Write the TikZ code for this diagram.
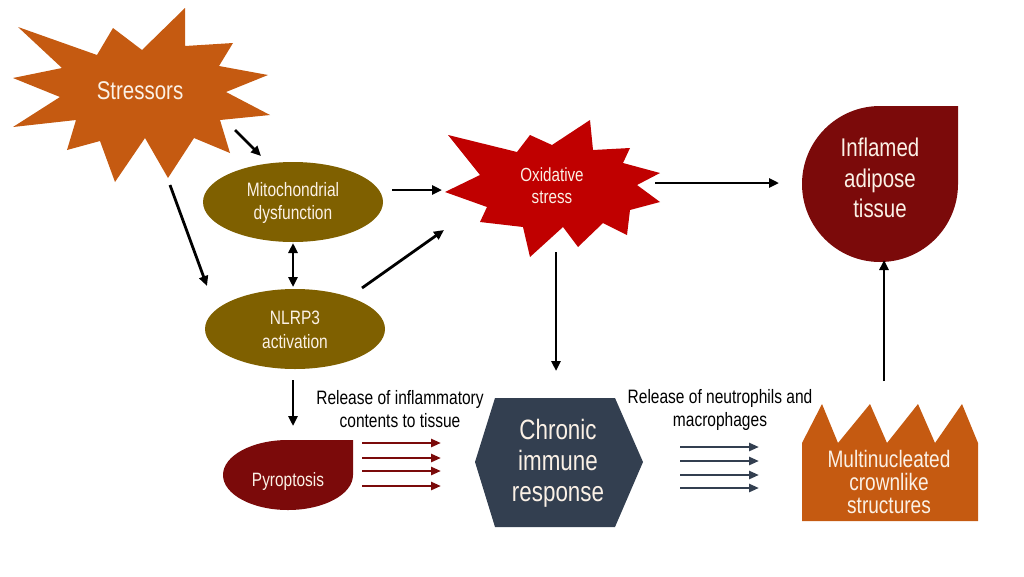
\documentclass[tikz,border=0pt]{standalone}
\usepackage{fontspec}
\setmainfont{Liberation Sans}
\usetikzlibrary{arrows.meta,shapes.geometric}
\definecolor{orng}{HTML}{C55A11}
\definecolor{oxred}{HTML}{C00000}
\definecolor{dred}{HTML}{7B0A0A}
\definecolor{olive}{HTML}{7F6000}
\definecolor{slate}{HTML}{333F50}
\definecolor{txt}{HTML}{FBF1E6}
\tikzset{
  arr/.style={line width=2.8pt,-{Triangle[length=10pt,width=9pt]}},
  darr/.style={line width=2.8pt,{Triangle[length=10pt,width=9pt]}-{Triangle[length=10pt,width=9pt]}},
  redarr/.style={line width=2.8pt,draw=dred,-{Triangle[length=10pt,width=8pt]}},
  navarr/.style={line width=2.8pt,draw=slate,-{Triangle[length=10pt,width=8pt]}},
  narrow/.style={transform shape,xscale=0.8},
  lbl/.style={narrow,text=txt,align=center,inner sep=0pt},
  caption/.style={narrow,text=black,align=center,inner sep=0pt,font=\fontsize{19.4}{23}\selectfont}
}
\begin{document}
\begin{tikzpicture}[x=1pt,y=-1pt]
\useasboundingbox (0,0) rectangle (1024,576);
% Stressors star
\fill[orng] (18,27) -- (97,55) -- (113,28) -- (142,50) -- (185,8) -- (185,46) -- (233,43) -- (219,66)
  -- (268,75) -- (226,92) -- (270,115) -- (220,120) -- (230,153) -- (194,138) -- (168,178) -- (145,138)
  -- (115,182) -- (100,141) -- (67,150) -- (76,120) -- (13,127) -- (60,97) -- (13,78) -- (62,68) -- cycle;
\node[lbl,font=\fontsize{25.6}{30}\selectfont] (stressors) at (140,91) {Stressors};
% Oxidative stress star
\fill[oxred] (448,135) -- (517,152) -- (530,135) -- (552,145) -- (590,120) -- (593,150) -- (630,148)
  -- (623,163) -- (660,173) -- (637,185) -- (660,202) -- (630,210) -- (627,235) -- (603,223) -- (578,247)
  -- (563,227) -- (530,257) -- (523,227) -- (480,222) -- (487,207) -- (445,192) -- (480,175) -- cycle;
\node[lbl,font=\fontsize{19}{22}\selectfont] (oxid) at (552,186) {Oxidative\\stress};
% Ellipses
\fill[olive] (293,202) ellipse[x radius=90,y radius=40];
\fill[olive] (295,329) ellipse[x radius=90,y radius=40];
\node[lbl,font=\fontsize{19.4}{23}\selectfont] (mito) at (293,203) {Mitochondrial\\dysfunction};
\node[lbl,font=\fontsize{19.4}{24}\selectfont] (nlrp3) at (295,330) {NLRP3\\activation};
% Inflamed adipose tissue
\fill[dred] (958,106) -- (880,106) arc[start angle=270,end angle=0,radius=78] -- cycle;
\node[lbl,font=\fontsize{25.6}{30.5}\selectfont] (inflamed) at (880,178) {Inflamed\\adipose\\tissue};
% Pyroptosis
\fill[dred] (353,440) -- (288,440) arc[start angle=270,end angle=0,x radius=65,y radius=35] -- cycle;
\node[lbl,font=\fontsize{19.3}{22}\selectfont] (pyro) at (288,481) {Pyroptosis};
% Chronic immune response
\fill[slate] (495,398) -- (615,398) -- (643,462) -- (615,527) -- (495,527) -- (475,462) -- cycle;
\node[lbl,font=\fontsize{28}{31}\selectfont] (chronic) at (558,463) {Chronic\\immune\\response};
% Crown-like structures
\fill[orng] (802,521) -- (802,443) -- (822,404) -- (838,443) -- (870,404) -- (887,443) -- (918,404)
  -- (935,443) -- (962,404) -- (978,443) -- (978,521) -- cycle;
\node[lbl,font=\fontsize{23.8}{23}\selectfont] (crown) at (889,482) {Multinucleated\\crownlike\\structures};
% captions
\node[caption] (cap1) at (400,409) {Release of inflammatory\\contents to tissue};
\node[caption] (cap2) at (720,410) {Release of neutrophils and\\macrophages};
% connector end points
\coordinate (s2m-a) at (235,130); \coordinate (s2m-b) at (261,156);
\coordinate (s2n-a) at (170,185); \coordinate (s2n-b) at (207,286);
\coordinate (m2o-a) at (392,190); \coordinate (m2o-b) at (442,190);
\coordinate (mn-a) at (293,243); \coordinate (mn-b) at (293,287);
\coordinate (n2o-a) at (362,288); \coordinate (n2o-b) at (444,230);
\coordinate (o2i-a) at (655,183); \coordinate (o2i-b) at (779,183);
\coordinate (o2c-a) at (556,252); \coordinate (o2c-b) at (556,371);
\coordinate (n2p-a) at (293,380); \coordinate (n2p-b) at (293,426);
\coordinate (c2i-a) at (884,381); \coordinate (c2i-b) at (884,260);
\draw[arr] (s2m-a) -- (s2m-b);
\draw[arr] (s2n-a) -- (s2n-b);
\draw[arr] (m2o-a) -- (m2o-b);
\draw[darr] (mn-a) -- (mn-b);
\draw[arr] (n2o-a) -- (n2o-b);
\draw[arr] (o2i-a) -- (o2i-b);
\draw[arr] (o2c-a) -- (o2c-b);
\draw[arr] (n2p-a) -- (n2p-b);
\draw[arr] (c2i-a) -- (c2i-b);
% release arrows
\foreach \yy [count=\i] in {443,458,471,486} {
  \coordinate (ra\i) at (362,\yy); \coordinate (rb\i) at (441,\yy);
  \draw[redarr] (ra\i) -- (rb\i);
}
\foreach \yy [count=\i] in {447,461,475,488} {
  \coordinate (na\i) at (680,\yy); \coordinate (nb\i) at (759,\yy);
  \draw[navarr] (na\i) -- (nb\i);
}
\end{tikzpicture}
\end{document}
